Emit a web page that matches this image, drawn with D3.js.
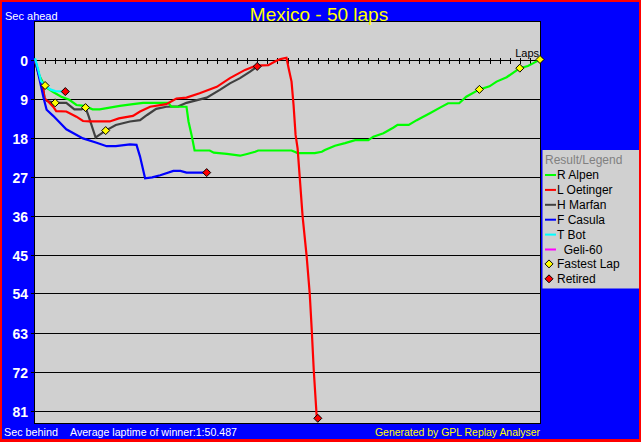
<!DOCTYPE html>
<html><head><meta charset="utf-8">
<script src="https://cdn.jsdelivr.net/npm/d3@7"></script>
<style>html,body{margin:0;padding:0;background:#f00;}svg{display:block;}</style>
</head><body>
<script>
// ---- data ----
const title = "Mexico - 50 laps";
const totalLaps = 50;
const yTickValues = [0, 9, 18, 27, 36, 45, 54, 63, 72, 81];
const lapTicks = d3.range(1, 50);

const alpen = [[0,0],[0.4,3.6],[1,6.3],[1.8,7.5],[2.6,8.6],[3.4,9.3],[4.1,10.5],[4.9,10.7],[5.7,11.5],[6.4,11.5],[7.4,11.1],[8.4,10.7],[9.7,10.3],[10.7,10],[13.2,10],[13.5,10.9],[15,10.9],[15.2,14.3],[15.5,17.4],[15.8,21],[17.3,21],[17.7,21.5],[19,21.8],[20.3,22.2],[21,21.8],[21.8,21.3],[22.1,21],[25.4,21],[25.7,21.3],[26,21.6],[27.7,21.6],[28.4,21.3],[28.7,20.9],[29.7,19.9],[30.7,19.3],[31.7,18.6],[33,18.6],[33.5,17.8],[34.5,17],[35.5,15.7],[35.9,15.1],[37,15.1],[37.8,14],[38.3,13.4],[39.1,12.4],[40.1,11.1],[40.9,10.1],[42,10.1],[42.7,8.6],[44,6.9],[45,6.2],[45.7,5.1],[46.7,4.1],[48,2],[48.8,1.5],[49.3,0.9],[50,0]];
const oetinger = [[0,0.3],[0.4,3.6],[0.8,6.6],[0.95,9],[1.3,9.7],[1.8,10.9],[2.1,11.9],[3.1,12],[4.1,13.2],[4.75,14.2],[5.4,14.3],[7.4,14.3],[8.3,13.6],[9.7,13],[10.4,12],[11.4,10.9],[13,10.3],[14,9],[15,8.8],[16.3,7.8],[18,6.3],[19.3,4.3],[20.8,2.4],[21.9,1.4],[23.1,1.3],[23.9,0.3],[24.3,-0.1],[24.9,-0.4],[25.1,1.9],[25.4,5.1],[25.6,10.5],[25.8,17.4],[26,20.5],[26.5,36.3],[26.9,45.5],[27.2,54],[27.4,62.4],[27.6,71.7],[27.9,82.8]];
const marfan = [[0,0.2],[0.4,3.5],[0.8,6.6],[0.95,9],[1.2,9.6],[2,10],[3.1,10],[3.9,11.5],[4.6,11.5],[5,11.1],[5.3,13],[6,18],[6.3,17.5],[7,16.4],[8,15.1],[9.4,14.3],[10.4,14],[11.1,12.8],[12,11.4],[13,10.9],[14.2,10.8],[15,10],[17,8.8],[18.3,7],[19.3,5.5],[20.3,4.3],[21.3,2.8],[22,1.6]];
const casula = [[0,0],[0.35,3.6],[0.57,5.9],[0.85,8.9],[1.15,11.6],[1.8,13],[3.1,16.1],[4.75,18.2],[6.1,19.2],[7.1,20],[8,20],[9.4,19.6],[10.05,19.7],[10.4,22.4],[10.9,27.4],[11.6,27.2],[12.4,26.7],[13.7,25.7],[14.4,25.7],[15,26.1],[17,26.1]];
const bot = [[0,-0.3],[0.3,2.2],[0.6,5],[1,6],[1.5,6.9],[2,7.3],[3,7.4]];
const geli = [];

const driverNames = ["R Alpen", "L Oetinger", "H Marfan", "F Casula", "T Bot", "  Geli-60"];
const driverColors = ["#00ff00", "#ff0000", "#404040", "#0000ff", "#00ffff", "#ff00ff"];
const driverData = [alpen, oetinger, marfan, casula, bot, geli];
const drawOrder = [2, 0, 1, 3, 4, 5];

const fastestLaps = [[1,6.0],[2,10],[5,11.1],[7,16.4],[44,6.9],[48,2],[50,0]];
const retired = [[3,7.4],[17,26.1],[22,1.6],[28,82.8]];

const avgText = "Average laptime of winner:1:50.487";

// ---- drawing ----
const W = 641, H = 442;
const svg = d3.select("body").append("svg").attr("width", W).attr("height", H);
svg.append("rect").attr("width", W).attr("height", H).attr("fill", "#ff0000");
svg.append("rect").attr("x", 2).attr("y", 2).attr("width", 637).attr("height", 437).attr("fill", "#0000ff");

const plot = {left: 35, right: 540, top: 22, bottom: 423};
const x = d3.scaleLinear().domain([0, totalLaps]).range([plot.left, plot.right]);
const y = d3.scaleLinear().domain([0, 81]).range([59.5, 410.5]);

svg.append("rect").attr("x", plot.left).attr("y", plot.top)
  .attr("width", plot.right - plot.left).attr("height", plot.bottom - plot.top)
  .attr("fill", "#d0d0d0");

const font = "Arial, 'Liberation Sans', sans-serif";

// grid lines
svg.append("g").selectAll("line").data(yTickValues.filter(v => v > 0)).join("line")
  .attr("x1", plot.left).attr("x2", plot.right)
  .attr("y1", d => Math.round(y(d)) + 0.5).attr("y2", d => Math.round(y(d)) + 0.5)
  .attr("stroke", "#000").attr("stroke-width", 1).attr("shape-rendering", "crispEdges");

// y axis ticks + labels
const ya = svg.append("g");
ya.selectAll("line").data(yTickValues).join("line")
  .attr("x1", 31).attr("x2", plot.left)
  .attr("y1", d => Math.round(y(d)) + 0.5).attr("y2", d => Math.round(y(d)) + 0.5)
  .attr("stroke", "#000").attr("shape-rendering", "crispEdges");
ya.selectAll("text").data(yTickValues).join("text")
  .attr("x", 28).attr("y", d => Math.round(y(d)) + 5.5)
  .attr("text-anchor", "end").attr("fill", "#fff")
  .style("font", `bold 14px ${font}`).text(d => d);

// zero line with lap ticks
svg.append("line").attr("x1", plot.left).attr("x2", plot.right)
  .attr("y1", Math.round(y(0)) + 0.5).attr("y2", Math.round(y(0)) + 0.5)
  .attr("stroke", "#000").attr("shape-rendering", "crispEdges");
svg.append("g").selectAll("line").data(lapTicks).join("line")
  .attr("x1", d => Math.round(x(d)) + 0.5).attr("x2", d => Math.round(x(d)) + 0.5)
  .attr("y1", Math.round(y(0)) - 2.5).attr("y2", Math.round(y(0)) + 3.5)
  .attr("stroke", "#000").attr("shape-rendering", "crispEdges");

// plot frame
svg.append("rect").attr("x", plot.left - 0.5).attr("y", plot.top - 0.5)
  .attr("width", plot.right - plot.left + 1).attr("height", plot.bottom - plot.top + 1)
  .attr("fill", "none").attr("stroke", "#000").attr("shape-rendering", "crispEdges");

svg.append("text").attr("x", 539).attr("y", 57).attr("text-anchor", "end")
  .attr("fill", "#000").style("font", `11px ${font}`).text("Laps");

// series
const line = d3.line().x(d => x(d[0])).y(d => y(d[1]));
svg.append("g").selectAll("path").data(drawOrder.filter(i => driverData[i].length)).join("path")
  .attr("d", i => line(driverData[i]))
  .attr("fill", "none").attr("stroke", i => driverColors[i])
  .attr("stroke-width", 2.2).attr("stroke-linejoin", "miter");

// markers
const diamond = "M0,-4L4,0L0,4L-4,0Z";
svg.append("g").selectAll("path").data(fastestLaps).join("path")
  .attr("transform", d => `translate(${x(d[0])},${y(d[1])})`)
  .attr("d", diamond).attr("fill", "#ffff00").attr("stroke", "#000").attr("stroke-width", 1);
svg.append("g").selectAll("path").data(retired).join("path")
  .attr("transform", d => `translate(${x(d[0])},${y(d[1])})`)
  .attr("d", diamond).attr("fill", "#ff0000").attr("stroke", "#000").attr("stroke-width", 1);

// texts
svg.append("text").attr("x", 319).attr("y", 21).attr("text-anchor", "middle")
  .attr("fill", "#ffff00").style("font", `19px ${font}`).text(title);
svg.append("text").attr("x", 5).attr("y", 19.5).attr("fill", "#fff")
  .style("font", `11px ${font}`).text("Sec ahead");
svg.append("text").attr("x", 4).attr("y", 436).attr("fill", "#fff")
  .style("font", `11px ${font}`).attr("textLength", 54).attr("lengthAdjust", "spacingAndGlyphs").text("Sec behind");
svg.append("text").attr("x", 70).attr("y", 436).attr("fill", "#fff")
  .style("font", `11px ${font}`).attr("textLength", 167).attr("lengthAdjust", "spacingAndGlyphs").text(avgText);
svg.append("text").attr("x", 375).attr("y", 436).attr("fill", "#ffff00")
  .style("font", `11px ${font}`).attr("textLength", 165).attr("lengthAdjust", "spacingAndGlyphs").text("Generated by GPL Replay Analyser");

// legend
const lg = svg.append("g");
lg.append("rect").attr("x", 542.5).attr("y", 150).attr("width", 96.5).attr("height", 138.5).attr("fill", "#d0d0d0");
lg.append("text").attr("x", 545).attr("y", 164).attr("fill", "#808080")
  .style("font", `12px ${font}`).text("Result/Legend");
const legendItems = driverNames.map((n, i) => ({name: n, color: driverColors[i], kind: "line"}))
  .concat([{name: "Fastest Lap", color: "#ffff00", kind: "dot"}, {name: "Retired", color: "#ff0000", kind: "dot"}]);
const rows = lg.selectAll("g.row").data(legendItems).join("g")
  .attr("transform", (d, i) => `translate(0,${179 + i * 14.9})`);
rows.filter(d => d.kind === "line").append("line")
  .attr("x1", 545).attr("x2", 556).attr("y1", -4).attr("y2", -4)
  .attr("stroke", d => d.color).attr("stroke-width", 2);
rows.filter(d => d.kind === "dot").append("path")
  .attr("transform", "translate(549,-4.5)").attr("d", diamond)
  .attr("fill", d => d.color).attr("stroke", "#000");
rows.append("text").attr("x", 557).attr("y", 0).attr("fill", "#000")
  .style("font", `12px ${font}`).style("white-space", "pre").attr("xml:space", "preserve").text(d => d.name);
</script>
</body></html>
